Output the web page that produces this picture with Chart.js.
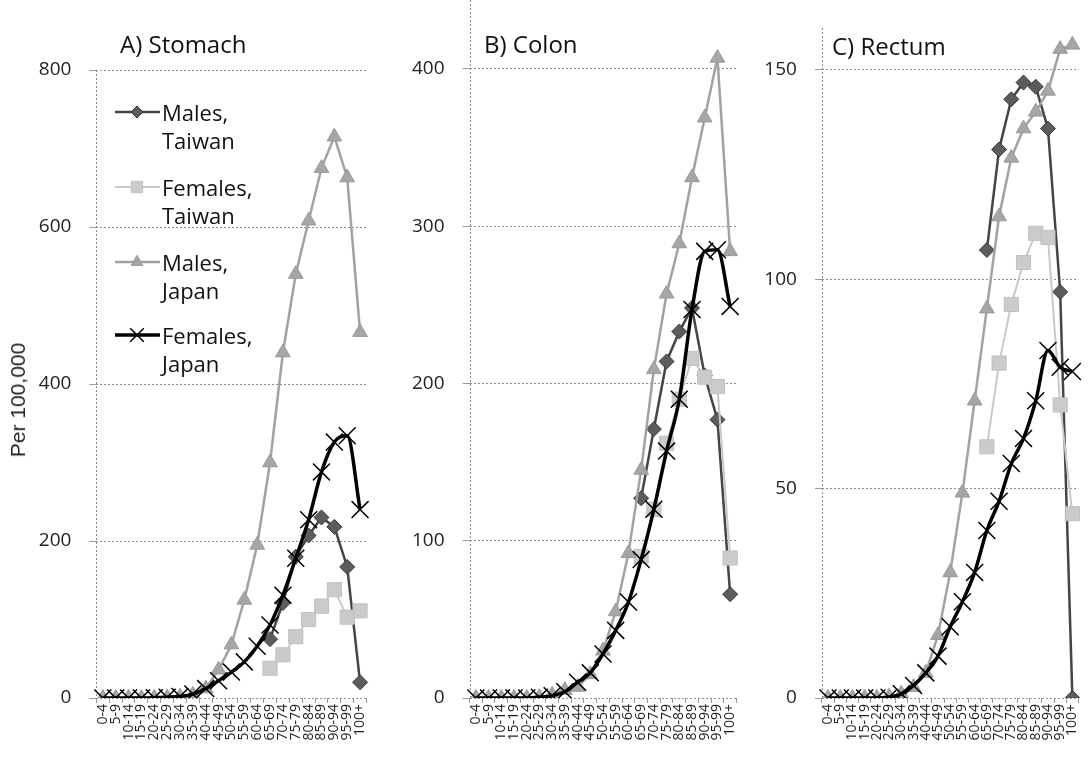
<!DOCTYPE html>
<html>
<head>
<meta charset="utf-8">
<script src="https://cdn.jsdelivr.net/npm/chart.js"></script>
<style>
html, body { margin: 0; padding: 0; background: #fff; width: 1091px; height: 762px; overflow: hidden; }
canvas { position: absolute; top: 0; }
#ytitle { position: absolute; left: 18px; top: 400px; transform: translate(-50%, -50%) rotate(-90deg);
  font: 21px "Liberation Sans", Arial, sans-serif; color: #222; white-space: nowrap; }
</style>
</head>
<body>
<canvas id="chartA" width="380" height="762" style="left:0px"></canvas>
<canvas id="chartB" width="370" height="762" style="left:380px"></canvas>
<canvas id="chartC" width="342" height="762" style="left:750px"></canvas>
<div id="ytitle">Per 100,000</div>
<script>
// age groups (x axis)
const ageGroups = ['0-4','5-9','10-14','15-19','20-24','25-29','30-34','35-39','40-44','45-49',
  '50-54','55-59','60-64','65-69','70-74','75-79','80-84','85-89','90-94','95-99','100+'];

const N = null;
// A) Stomach
const stomachMaleTW   = [N,N,N,N,N,N,N,N,N,N,N,N,N, 75,121,180,207,230,218,167,20];
const stomachFemaleTW = [N,N,N,N,N,N,N,N,N,N,N,N,N, 38,55,78,100,117,138,103,111];
const stomachMaleJP   = [0,0,0,0,0,0.5,1.5,4,12,36,68,125,195,300,440,540,608,675,715,663,466];
const stomachFemaleJP = [0,0,0,0,0.3,1,2,5,12,22,33,46,66,93,131,178,227,288,326,334,240];
// B) Colon
const colonMaleTW   = [N,N,N,N,N,N,N,N,N,N,N,N,N, 127,171,214,233,248,205,177,66];
const colonFemaleTW = [N,N,N,N,N,N,N,N,N,N,N,N,N, 90,120,162,190,216,204,198,89];
const colonMaleJP   = [0,0,0,0,0,0.5,2,5,7,15,30,55,92,145,209,257,289,331,369,407,284];
const colonFemaleJP = [0,0,0,0,0,0.5,1.5,4,10,16,28,43,61,88,120,157,190,247,284,285,249];
// C) Rectum
const rectumMaleTW   = [N,N,N,N,N,N,N,N,N,N,N,N,N, 107,131,143,147,146,136,97,0];
const rectumFemaleTW = [N,N,N,N,N,N,N,N,N,N,N,N,N, 60,80,94,104,111,110,70,44];
const rectumMaleJP   = [0,0,0,0,0,0.3,1,2.6,6,15,30,49,71,93,115,129,136,140,145,155,156];
const rectumFemaleJP = [0,0,0,0,0,0.2,1,3,6,10,17,23,30,40,47,56,62,71,83,79,78];

// y axis tick labels
const stomachTicks = [0, 200, 400, 600, 800];
const colonTicks = [0, 100, 200, 300, 400];
const rectumTicks = [0, 50, 100, 150];

const seriesStyles = [
  { label: 'Males, Taiwan', borderColor: '#454545', borderWidth: 2.5, pointStyle: 'rectRot', pointRadius: 7.5,
    pointBackgroundColor: '#5c5c5c', pointBorderColor: '#3a3a3a', pointBorderWidth: 1, order: 4 },
  { label: 'Females, Taiwan', borderColor: '#c9c9c9', borderWidth: 2, pointStyle: 'rect', pointRadius: 10,
    pointBackgroundColor: '#cbcbcb', pointBorderColor: '#c0c0c0', pointBorderWidth: 1, order: 3 },
  { label: 'Males, Japan', borderColor: '#a2a2a2', borderWidth: 2.5, pointStyle: 'triangle', pointRadius: 8.5,
    pointBackgroundColor: '#a6a6a6', pointBorderColor: '#999', pointBorderWidth: 1, order: 2 },
  { label: 'Females, Japan', borderColor: '#000', borderWidth: 3.5, pointStyle: 'crossRot', pointRadius: 12,
    pointBackgroundColor: '#000', pointBorderColor: '#000', pointBorderWidth: 1.5, order: 1, cubicInterpolationMode: 'monotone' }
];

function makeDatasets(values) {
  return seriesStyles.map((s, i) => Object.assign({ data: values[i], fill: false, tension: 0, spanGaps: false }, s));
}

// title + dotted left axis for each panel
const panelDecor = {
  id: 'panelDecor',
  beforeDatasetsDraw(chart, args, opts) {
    const { ctx, chartArea } = chart;
    ctx.save();
    ctx.strokeStyle = '#8a8a8a';
    ctx.lineWidth = 1;
    ctx.setLineDash([2, 2]);
    ctx.beginPath();
    ctx.moveTo(Math.round(chartArea.left) + 0.5, opts.axisTop);
    ctx.lineTo(Math.round(chartArea.left) + 0.5, chartArea.bottom);
    ctx.stroke();
    ctx.restore();
  },
  afterDraw(chart, args, opts) {
    const ctx = chart.ctx;
    ctx.save();
    ctx.fillStyle = '#111';
    ctx.font = '24px "Open Sans", sans-serif';
    ctx.textBaseline = 'alphabetic';
    ctx.fillText(opts.title, opts.titleX, opts.titleY);
    ctx.restore();
  }
};

// legend inside panel A
const sideLegend = {
  id: 'sideLegend',
  afterDraw(chart, args, opts) {
    if (!opts.show) return;
    const ctx = chart.ctx;
    const rows = [112, 187, 262, 335];
    chart.data.datasets.forEach((ds, i) => {
      const y = rows[i];
      ctx.save();
      ctx.strokeStyle = ds.borderColor;
      ctx.lineWidth = ds.borderWidth;
      ctx.beginPath();
      ctx.moveTo(115, y);
      ctx.lineTo(160, y);
      ctx.stroke();
      ctx.fillStyle = ds.pointBackgroundColor;
      ctx.strokeStyle = ds.pointBorderColor;
      ctx.lineWidth = ds.pointBorderWidth;
      if (Chart.helpers && Chart.helpers.drawPoint) {
        Chart.helpers.drawPoint(ctx, { pointStyle: ds.pointStyle, radius: ds.pointRadius * 0.8,
          borderWidth: ds.pointBorderWidth, rotation: 0 }, 137, y);
      }
      ctx.fillStyle = '#111';
      ctx.font = '22px "Open Sans", sans-serif';
      ctx.textBaseline = 'alphabetic';
      const parts = ds.label.split(' ');
      ctx.fillText(parts[0], 162, y + 9);
      ctx.fillText(parts[1], 162, y + 37);
      ctx.restore();
    });
  }
};

function makeChart(id, values, yMax, yTicks, yAxisW, pad, decor, showLegend) {
  return new Chart(document.getElementById(id), {
    type: 'line',
    data: { labels: ageGroups, datasets: makeDatasets(values) },
    options: {
      responsive: false,
      animation: false,
      layout: { padding: pad },
      plugins: {
        legend: { display: false },
        tooltip: { enabled: false },
        panelDecor: decor,
        sideLegend: { show: showLegend }
      },
      scales: {
        x: {
          offset: true,
          grid: { display: true, offset: true, drawOnChartArea: false, drawTicks: true,
                  tickLength: 5, tickColor: '#999' },
          border: { display: false },
          ticks: { autoSkip: false, minRotation: 90, maxRotation: 90, padding: 1,
                   font: { family: '"Open Sans", sans-serif', size: 14 }, color: '#1e1e1e' },
          afterFit: s => { s.height = 64; s.paddingLeft = 0; s.paddingRight = 0; }
        },
        y: {
          min: 0,
          max: yMax,
          afterBuildTicks: s => { s.ticks = yTicks.map(v => ({ value: v })); },
          afterFit: s => { s.width = yAxisW; },
          grid: { color: '#8f8f8f', lineWidth: 1, drawTicks: true, tickLength: 7, tickColor: '#999' },
          border: { display: false, dash: [2, 2] },
          ticks: { padding: 18, color: '#222', font: { family: '"Open Sans", sans-serif', size: 19 } }
        }
      }
    },
    plugins: [panelDecor, sideLegend]
  });
}

makeChart('chartA', [stomachMaleTW, stomachFemaleTW, stomachMaleJP, stomachFemaleJP],
  800, stomachTicks, 96.4, { top: 70, right: 6.4, bottom: 0, left: 0 },
  { title: 'A) Stomach', titleX: 120, titleY: 53, axisTop: 70 }, true);

makeChart('chartB', [colonMaleTW, colonFemaleTW, colonMaleJP, colonFemaleJP],
  418.4, colonTicks, 89.5, { top: 40, right: 5.8, bottom: 0, left: 0 },
  { title: 'B) Colon', titleX: 104, titleY: 53, axisTop: 0 }, false);

makeChart('chartC', [rectumMaleTW, rectumFemaleTW, rectumMaleJP, rectumFemaleJP],
  159.55, rectumTicks, 71.9, { top: 30, right: 0, bottom: 0, left: 0 },
  { title: 'C) Rectum', titleX: 82, titleY: 55, axisTop: 28 }, false);
</script>
</body>
</html>
